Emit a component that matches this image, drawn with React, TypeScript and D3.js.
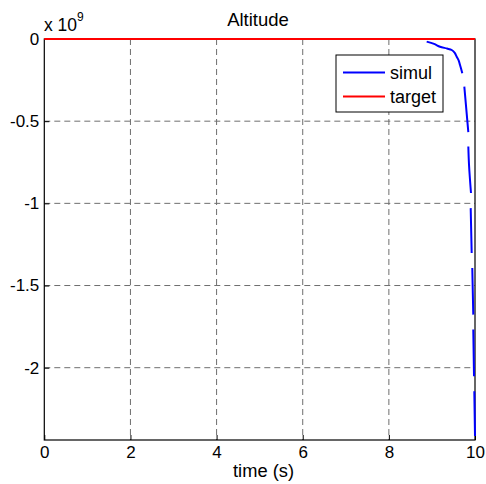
import { useRef, useEffect } from 'react'
import * as d3 from 'd3'

// x ticks (time, s) and y ticks (altitude, x 1e9)
const X_TICKS = [0, 2, 4, 6, 8, 10]
const Y_TICKS = [0, -0.5, -1, -1.5, -2]
const Y_MIN = -2.44

// simul trace, null marks a break in the line
const SIMUL_T = [8.878, 9.05, 9.187, 9.35, 9.459, 9.53, 9.575, 9.62, 9.652, 9.705, null, 9.752, 9.845, null, 9.845, 9.861, 9.907, null, 9.9, 9.923, null, 9.937, 9.96, null, 9.96, 9.977, null, 9.984, 10]
const SIMUL_ALT = [-0.016, -0.03, -0.047, -0.058, -0.067, -0.085, -0.108, -0.13, -0.158, -0.208, null, -0.29, -0.567, null, -0.654, -0.765, -0.937, null, -1.029, -1.302, null, -1.393, -1.677, null, -1.768, -2.052, null, -2.143, -2.416]

// target is flat at zero
const TARGET_T = [0, 10]
const TARGET_ALT = [0, 0]

const LEGEND = [
  { label: 'simul', color: '#0000ff' },
  { label: 'target', color: '#ff0000' },
]

const W = 486
const H = 484
const FONT = 'Liberation Sans, Arial, sans-serif'

export default function App() {
  const svgRef = useRef<SVGSVGElement>(null)

  useEffect(() => {
    if (!svgRef.current) return
    const svg = d3.select(svgRef.current)
    svg.selectAll('*').remove()

    const margin = { top: 39, right: 11, bottom: 44, left: 44.3 }
    const innerWidth = W - margin.left - margin.right
    const innerHeight = H - margin.top - margin.bottom

    const g = svg.append('g').attr('transform', `translate(${margin.left},${margin.top})`)

    const x = d3.scaleLinear().domain([0, 10]).range([0, innerWidth])
    const y = d3.scaleLinear().domain([Y_MIN, 0]).range([innerHeight, 0])

    // grid
    X_TICKS.slice(1, -1).forEach(t => {
      g.append('line')
        .attr('x1', x(t)).attr('x2', x(t))
        .attr('y1', 0).attr('y2', innerHeight)
        .attr('stroke', '#6e6e6e')
        .attr('stroke-dasharray', '6,4')
    })
    Y_TICKS.slice(1).forEach(v => {
      g.append('line')
        .attr('x1', 0).attr('x2', innerWidth)
        .attr('y1', y(v)).attr('y2', y(v))
        .attr('stroke', '#6e6e6e')
        .attr('stroke-dasharray', '6,4')
    })

    // axes box
    g.append('rect')
      .attr('width', innerWidth).attr('height', innerHeight)
      .attr('fill', 'none').attr('stroke', '#000').attr('stroke-width', 1.2)

    // inward ticks
    const xAxis = d3.axisBottom(x).tickValues(X_TICKS).tickSizeInner(-5).tickSizeOuter(0).tickPadding(6)
    const xg = g.append('g').attr('transform', `translate(0,${innerHeight})`).call(xAxis)
    xg.select('.domain').remove()
    xg.selectAll('text').attr('font-family', FONT).attr('font-size', 17).attr('fill', '#000')

    const yAxis = d3.axisLeft(y).tickValues(Y_TICKS).tickSizeInner(-5).tickSizeOuter(0).tickPadding(5)
      .tickFormat(d => `${d}`)
    const yg = g.append('g').call(yAxis)
    yg.select('.domain').remove()
    yg.selectAll('text').attr('font-family', FONT).attr('font-size', 17).attr('fill', '#000')

    // lines
    const simul = SIMUL_T.map((t, i) => ({ t, v: SIMUL_ALT[i] }))
    const target = TARGET_T.map((t, i) => ({ t, v: TARGET_ALT[i] }))
    const line = d3.line<{ t: number | null; v: number | null }>()
      .defined(d => d.t !== null && d.v !== null)
      .x(d => x(d.t as number))
      .y(d => y(d.v as number))
      .curve(d3.curveCatmullRom)

    g.append('path').datum(target).attr('d', line)
      .attr('fill', 'none').attr('stroke', '#ff0000').attr('stroke-width', 2)
    g.append('path').datum(simul).attr('d', line)
      .attr('fill', 'none').attr('stroke', '#0000ff').attr('stroke-width', 2)

    // legend
    const legend = g.append('g').attr('transform', `translate(${336 - margin.left},${55 - margin.top})`)
    legend.append('rect')
      .attr('width', 107).attr('height', 57)
      .attr('fill', '#fff').attr('stroke', '#000')
    LEGEND.forEach((item, i) => {
      const row = legend.append('g').attr('transform', `translate(0,${17.5 + i * 24})`)
      row.append('line')
        .attr('x1', 7).attr('x2', 49)
        .attr('stroke', item.color).attr('stroke-width', 2)
      row.append('text')
        .attr('x', 54).attr('y', 6)
        .attr('font-family', FONT).attr('font-size', 18)
        .text(item.label)
    })

    // title and labels
    svg.append('text')
      .attr('x', 258).attr('y', 26)
      .attr('text-anchor', 'middle')
      .attr('font-family', FONT).attr('font-size', 18.5)
      .text('Altitude')

    const exp = svg.append('text')
      .attr('x', 44).attr('y', 31)
      .attr('font-family', FONT).attr('font-size', 17.5)
    exp.append('tspan').text('x 10')
    exp.append('tspan').attr('dy', -10).attr('font-size', 12).text('9')

    svg.append('text')
      .attr('x', 263.5).attr('y', 477)
      .attr('text-anchor', 'middle')
      .attr('font-family', FONT).attr('font-size', 18.3)
      .text('time (s)')
  }, [])

  return (
    <svg
      ref={svgRef}
      width={W}
      height={H}
      style={{ position: 'fixed', left: 0, top: 0, background: '#fff' }}
    />
  )
}
